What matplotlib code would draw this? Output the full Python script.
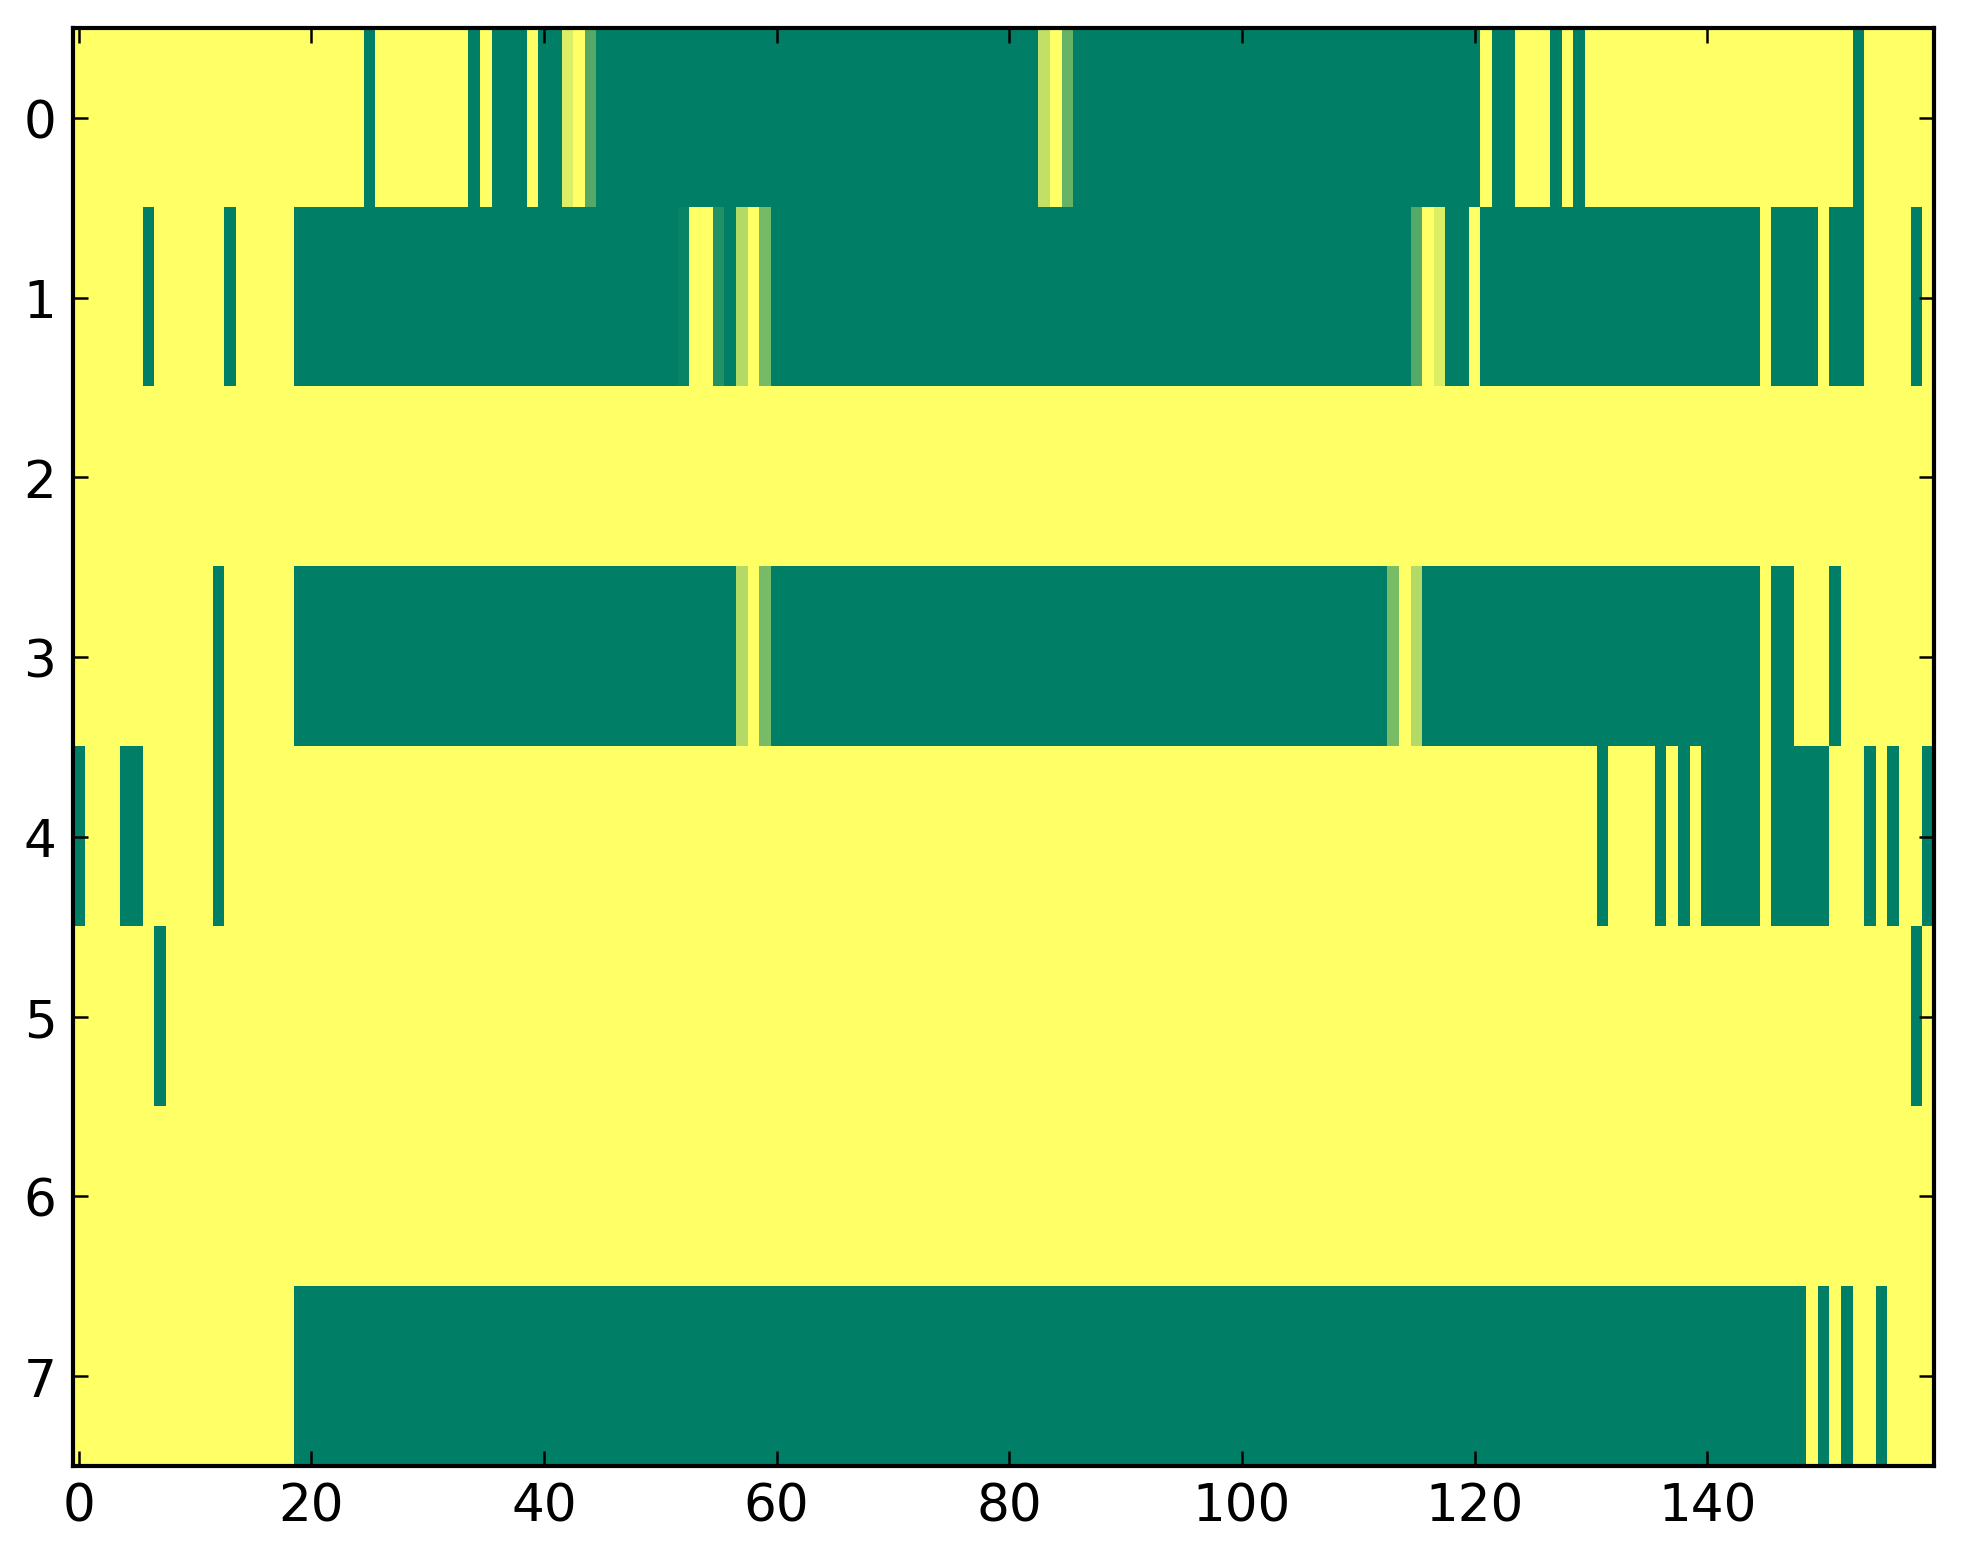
import numpy as np
import matplotlib
matplotlib.use('Agg')
import matplotlib.pyplot as plt

# each row given as runs of (value, number of columns)
row0 = [(1, 25), (0, 1), (1, 8), (0, 1), (1, 1), (0, 3), (1, 1), (0, 2), (0.86, 1), (1, 1),
        (0.33, 1), (0, 38), (0.76, 1), (1, 1), (0.40, 1), (0, 35), (1, 1), (0, 2), (1, 3),
        (0, 1), (1, 1), (0, 1), (1, 23), (0, 1), (1, 6)]
row1 = [(1, 6), (0, 1), (1, 6), (0, 1), (1, 5), (0, 33), (0.03, 1), (1, 2), (0.14, 1), (0, 1),
        (0.70, 1), (1, 1), (0.46, 1), (0, 55), (0.33, 1), (1, 1), (0.86, 1), (0, 2), (1, 1),
        (0, 24), (1, 1), (0, 4), (1, 1), (0, 3), (1, 4), (0, 1), (1, 1)]
row2 = [(1, 160)]
row3 = [(1, 12), (0, 1), (1, 6), (0, 38), (0.70, 1), (1, 1), (0.47, 1), (0, 53), (0.48, 1),
        (1, 1), (0.70, 1), (0, 29), (1, 1), (0, 2), (1, 3), (0, 1), (1, 8)]
row4 = [(0, 1), (1, 3), (0, 2), (1, 6), (0, 1), (1, 118), (0, 1), (1, 4), (0, 1), (1, 1),
        (0, 1), (1, 1), (0, 5), (1, 1), (0, 5), (1, 3), (0, 1), (1, 1), (0, 1), (1, 2), (0, 1)]
row5 = [(1, 7), (0, 1), (1, 150), (0, 1), (1, 1)]
row6 = [(1, 160)]
row7 = [(1, 19), (0, 130), (1, 1), (0, 1), (1, 1), (0, 1), (1, 2), (0, 1), (1, 4)]

xticks = [0, 20, 40, 60, 80, 100, 120, 140]
yticks = [0, 1, 2, 3, 4, 5, 6, 7]


def expand(runs):
    vals = [v for v, n in runs]
    counts = [n for v, n in runs]
    return np.repeat(vals, counts)


grid = np.vstack([expand(r) for r in [row0, row1, row2, row3, row4, row5, row6, row7]])

plt.rcParams['font.family'] = 'DejaVu Sans'
fig = plt.figure(figsize=(1963 / 300, 1564 / 300), dpi=300)
ax = fig.add_axes([0.0372, 0.062, 0.948, 0.9195])
ax.imshow(grid, cmap='summer', vmin=0, vmax=1, aspect='auto', interpolation='nearest')

ax.set_xticks(xticks)
ax.set_yticks(yticks)
ax.set_xlim(-0.5, 159.5)
ax.set_ylim(7.5, -0.5)
ax.tick_params(direction='in', length=3.5, width=0.6, labelsize=12.4,
               top=True, right=True)
ax.tick_params(axis='x', pad=3.8)
ax.tick_params(axis='y', pad=4)
for sp in ax.spines.values():
    sp.set_linewidth(1.0)

fig.savefig('out.png', dpi=300)
